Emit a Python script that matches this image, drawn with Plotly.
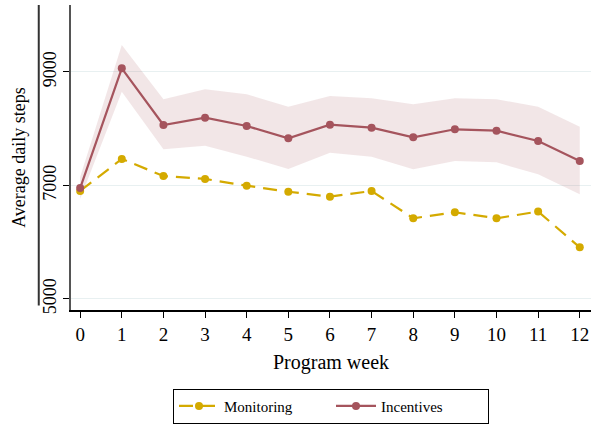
import plotly.graph_objects as go

weeks = list(range(13))
monitoring = [6903, 7467, 7167, 7115, 6996, 6890, 6803, 6903, 6422, 6528, 6422, 6540, 5911]
incentives = [6955, 9065, 8066, 8195, 8048, 7831, 8072, 8019, 7849, 7990, 7966, 7784, 7432]
incentives_hi = [7150, 9476, 8518, 8695, 8607, 8389, 8577, 8536, 8430, 8536, 8518, 8389, 8036]
incentives_lo = [6760, 8653, 7638, 7702, 7508, 7291, 7578, 7508, 7285, 7432, 7408, 7197, 6845]
y_ticks = [5000, 7000, 9000]

GOLD = "#d4aa00"
CRANBERRY = "#a5545d"
BAND = "rgba(165, 84, 93, 0.15)"
FONT = "Liberation Serif"

fig = go.Figure()

# confidence band for the incentives arm
fig.add_trace(go.Scatter(
    x=weeks + weeks[::-1], y=incentives_hi + incentives_lo[::-1],
    fill="toself", fillcolor=BAND, line=dict(width=0),
    hoverinfo="skip", showlegend=False, mode="lines"))

fig.add_trace(go.Scatter(
    x=weeks, y=monitoring, name="Monitoring", mode="lines+markers",
    line=dict(color=GOLD, width=2.2, dash="14px,8px"),
    marker=dict(color=GOLD, size=8)))

fig.add_trace(go.Scatter(
    x=weeks, y=incentives, name="Incentives", mode="lines+markers",
    line=dict(color=CRANBERRY, width=2.2),
    marker=dict(color=CRANBERRY, size=8)))

# outer rule to the left of the y-axis labels
fig.add_shape(type="line", xref="paper", yref="paper",
              x0=-0.062, x1=-0.062, y0=0.015, y1=1.0,
              line=dict(color="#333333", width=2))

fig.update_layout(
    width=597, height=425,
    margin=dict(l=71, r=6, t=5, b=115, autoexpand=False),
    paper_bgcolor="white", plot_bgcolor="white",
    font=dict(family=FONT, color="black"),
    showlegend=True,
    legend=dict(
        orientation="h", x=0.5, xanchor="center", y=-0.258, yanchor="top",
        bordercolor="black", borderwidth=1, font=dict(size=15, family=FONT),
        traceorder="normal", itemwidth=40, entrywidth=102,
    ),
    xaxis=dict(
        range=[-0.22, 12.27], tickvals=weeks, ticks="outside", ticklen=6,
        tickcolor="black", showline=True, linecolor="black", linewidth=1.5,
        showgrid=False, zeroline=False, tickfont=dict(size=19, family=FONT),
        automargin=False,
        title=dict(text="Program week", font=dict(size=20, family=FONT), standoff=11),
    ),
    yaxis=dict(
        range=[4806, 10180], tickvals=y_ticks, ticks="outside", ticklen=6,
        tickcolor="black", showline=True, linecolor="#555555", linewidth=1.5,
        showgrid=True, gridcolor="#e8f0f1", gridwidth=1, zeroline=False,
        tickangle=-90, tickfont=dict(size=18, family=FONT), automargin=False,
        title=dict(text="Average daily steps", font=dict(size=18, family=FONT), standoff=10),
    ),
)

fig.write_html("out.html")
